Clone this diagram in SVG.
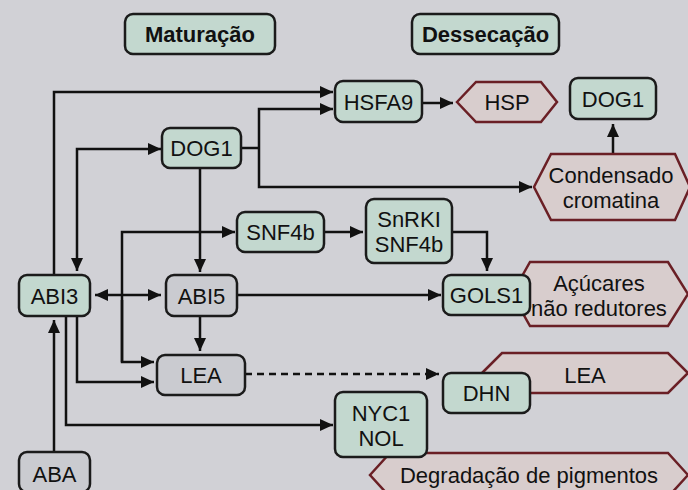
<svg xmlns="http://www.w3.org/2000/svg" width="688" height="490" viewBox="0 0 688 490">
<defs>
<marker id="ah" markerUnits="userSpaceOnUse" markerWidth="14" markerHeight="12" refX="13" refY="6" orient="auto-start-reverse">
<path d="M0,0 L13,6 L0,12 Z" fill="#111"/>
</marker>
<style>
.bg{fill:#d1d1d6}
.g rect{fill:#c3d8cf;stroke:#1b1b1b;stroke-width:2.5}
.gy rect{fill:#cacbd0;stroke:#1b1b1b;stroke-width:2.5}
.hx polygon{fill:#d8cdcd;stroke:#6a1f25;stroke-width:2.5}
text{font-family:"Liberation Sans",Arial,sans-serif;font-size:22px;fill:#111;text-anchor:middle}
.t{font-weight:bold}
.c path{fill:none;stroke:#111;stroke-width:2.5}
.c .e{marker-end:url(#ah)}
.c .b{marker-start:url(#ah);marker-end:url(#ah)}
.c .d{stroke-dasharray:7 5}
</style>
</defs>
<rect class="bg" x="0" y="0" width="688" height="490"/>

<g id="connectors" class="c">
<path class="e" d="M54,275 L54,92 L333,92"/>
<path d="M241,148 L259,148"/>
<path class="e" d="M259,148 L259,109 L333,109"/>
<path class="e" d="M259,148 L259,187 L532,187"/>
<path class="b" d="M77,271 L77,149 L161,149"/>
<path class="e" d="M200,168 L200,272"/>
<path class="b" d="M95,295 L161,295"/>
<path class="e" d="M122,362 L122,232 L235,232"/>
<path class="e" d="M122,300 L122,362 L154,362"/>
<path class="e" d="M324,232 L363,232"/>
<path class="e" d="M452,232 L487,232 L487,271"/>
<path class="e" d="M237,295 L441,295"/>
<path class="e" d="M200,316 L200,351"/>
<path class="e" d="M77,316 L77,382 L154,382"/>
<path class="e" d="M66,316 L66,425 L333,425"/>
<path class="e" d="M54,452 L54,320"/>
<path class="e d" d="M245,374 L439,374"/>
<path class="e" d="M422,103 L453,103"/>
<path class="e" d="M613,154 L613,124"/>
</g>

<g id="title-maturacao" class="g"><rect x="125" y="14" width="150" height="40" rx="8"/><text class="t" x="200" y="42">Maturação</text></g>
<g id="title-dessecacao" class="g"><rect x="412" y="14" width="147" height="40" rx="8"/><text class="t" x="485.5" y="42">Dessecação</text></g>

<g id="hsp" class="hx"><polygon points="457,102 476,82 541,82 557,102 541,122 476,122"/><text x="507" y="110">HSP</text></g>
<g id="condensado" class="hx"><polygon points="534,187 551,154 675,154 690,187 675,220 551,220"/><text x="611" y="183">Condensado</text><text x="611" y="208">cromatina</text></g>
<g id="acucares" class="hx"><polygon points="512,294 530,262 668,262 688,294 668,326 530,326"/><text x="599" y="291">Açúcares</text><text x="599" y="316">não redutores</text></g>
<g id="lea-hex" class="hx"><polygon points="482,373 502,353 668,353 688,373 668,393 502,393"/><text x="585" y="383">LEA</text></g>
<g id="degradacao" class="hx"><polygon points="370,475 390,453 668,453 688,475 668,497 390,497"/><text x="529" y="483">Degradação de pigmentos</text></g>

<g id="hsfa9" class="g"><rect x="335" y="81" width="87" height="41" rx="8"/><text x="378.5" y="109.5">HSFA9</text></g>
<g id="dog1-right" class="g"><rect x="570" y="78" width="86" height="41" rx="8"/><text x="613" y="106.5">DOG1</text></g>
<g id="dog1" class="g"><rect x="162" y="128" width="79" height="40" rx="8"/><text x="201.5" y="156">DOG1</text></g>
<g id="snf4b" class="g"><rect x="237" y="212" width="87" height="40" rx="8"/><text x="280.5" y="240">SNF4b</text></g>
<g id="snrki" class="g"><rect x="366" y="199" width="86" height="64" rx="8"/><text x="409" y="227">SnRKI</text><text x="409" y="252">SNF4b</text></g>
<g id="abi3" class="g"><rect x="19" y="275" width="71" height="41" rx="8"/><text x="54.5" y="303.5">ABI3</text></g>
<g id="abi5" class="gy"><rect x="166" y="275" width="71" height="41" rx="8"/><text x="201.5" y="303.5">ABI5</text></g>
<g id="gols1" class="g"><rect x="443" y="275" width="87" height="40" rx="8"/><text x="486.5" y="303">GOLS1</text></g>
<g id="lea" class="gy"><rect x="157" y="355" width="88" height="40" rx="8"/><text x="201" y="383">LEA</text></g>
<g id="dhn" class="g"><rect x="443" y="373" width="87" height="40" rx="8"/><text x="486.5" y="401">DHN</text></g>
<g id="nyc1" class="g"><rect x="335" y="392" width="92" height="65" rx="8"/><text x="381" y="420.5">NYC1</text><text x="381" y="445.5">NOL</text></g>
<g id="aba" class="gy"><rect x="19" y="452" width="71" height="40" rx="8"/><text x="54.5" y="481.5">ABA</text></g>
</svg>
